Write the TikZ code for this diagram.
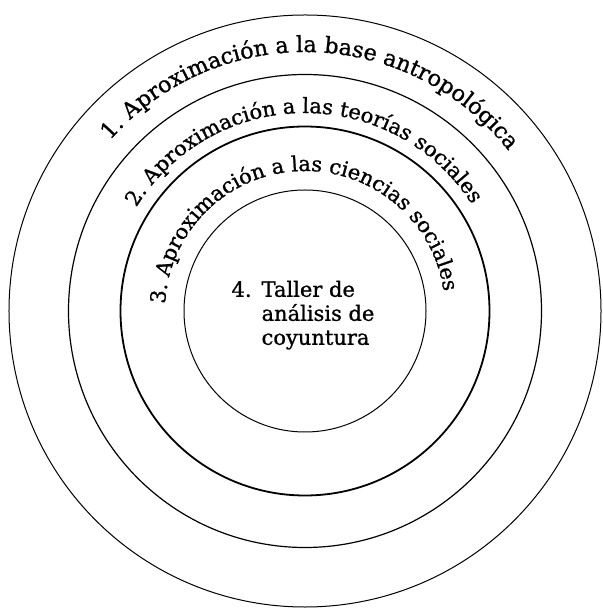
\documentclass[tikz,border=0pt]{standalone}
\usepackage{fontspec}
\setmainfont{DejaVu Serif}
\newfontfamily\ringfam[FakeBold=1]{DejaVu Serif}
\usepackage{tikz}
\usetikzlibrary{decorations.text}
\newcommand\ringfont[1][21]{\ringfam\fontsize{#1}{24}\selectfont}
\tikzset{
  ring/.style={circle, draw=black, inner sep=0pt, line width=1pt},
  ringtext/.style 2 args={decorate, decoration={text along path, text align=center, text color=black, text={|\ringfont[#1]|#2}}},
  core/.style={font=\ringfont, inner sep=0pt}
}
\begin{document}
\begin{tikzpicture}[x=1pt, y=1pt]
\useasboundingbox (-305,-298) rectangle (297,311);
\node[ring, minimum size=592] (r1) at (0,0) {};
\node[ring, minimum size=473, line width=1.2pt] (r2) at (0,0) {};
\node[ring, minimum size=369, line width=1.8pt] (r3) at (0,0) {};
\node[ring, minimum size=242] (r4) at (0,0) {};
% ring labels
\path[ringtext={22.3}{1. Aproximación a la base antropológica}] (188.5:259) arc (188.5:-11.5:259);
\path[ringtext={21}{2. Aproximación a las teorías sociales}] (190.5:198) arc (190.5:-9.5:198);
\path[ringtext={21}{3. Aproximación a las ciencias sociales}] (192.5:140) arc (192.5:-7.5:140);
\node[core] (taller) at (-2,-5) {\begin{tabular}{@{}l@{\hspace{10pt}}l@{}}4. & Taller de\\ & análisis de\\ & coyuntura\end{tabular}};
\end{tikzpicture}
\end{document}
